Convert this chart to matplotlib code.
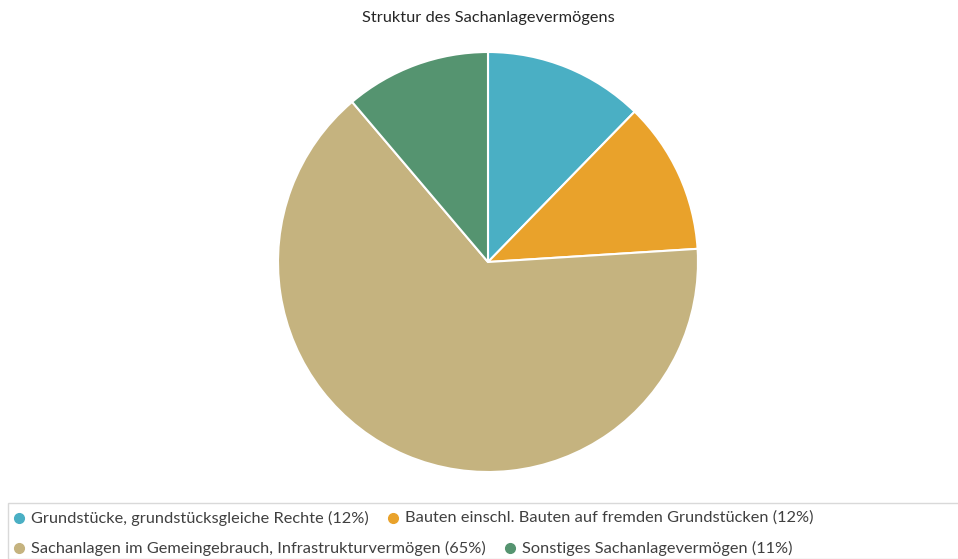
import matplotlib
matplotlib.use("Agg")
import matplotlib.pyplot as plt
from matplotlib.lines import Line2D
from matplotlib.patches import Rectangle

categories = [
    "Grundstücke, grundstücksgleiche Rechte",
    "Bauten einschl. Bauten auf fremden Grundstücken",
    "Sachanlagen im Gemeingebrauch, Infrastrukturvermögen",
    "Sonstiges Sachanlagevermögen",
]
values = [12.3, 11.7, 64.8, 11.2]
labels_pct = ["12%", "12%", "65%", "11%"]
colors = ["#4AAFC4", "#E9A22B", "#C5B37F", "#559470"]
title = "Struktur des Sachanlagevermögens"

W, H = 958, 559
fig = plt.figure(figsize=(W / 100, H / 100), dpi=100)
plt.rcParams['font.family'] = ['Lato', 'DejaVu Sans']

cx, cy, r = 488, 262, 210
ax = fig.add_axes([(cx - r) / W, (H - cy - r) / H, 2 * r / W, 2 * r / H])
ax.pie(values, colors=colors, startangle=90, counterclock=False, radius=1,
       wedgeprops=dict(edgecolor="white", linewidth=1.5))
ax.set_xlim(-1, 1)
ax.set_ylim(-1, 1)
ax.set_aspect("equal")
ax.axis("off")

fig.text(cx / W, 1 - 18 / H, title, ha="center", va="center", fontsize=11.8, color="#262626")

# Legend box
fig.add_artist(Rectangle((8 / W, 0), (W - 8) / W + 0.01, (H - 503) / H,
                         transform=fig.transFigure, facecolor="none",
                         edgecolor="#d9d9d9", linewidth=1))

fig.canvas.draw()
renderer = fig.canvas.get_renderer()
rows = [[0, 1], [2, 3]]
row_y = [518, 548]
for row, yy in zip(rows, row_y):
    x = 19
    for i in row:
        fig.add_artist(Line2D([x / W], [1 - yy / H], marker="o", markersize=7,
                              color=colors[i], linestyle="none", transform=fig.transFigure))
        t = fig.text((x + 12) / W, 1 - yy / H, f"{categories[i]} ({labels_pct[i]})",
                     ha="left", va="center", fontsize=11.8, color="#404040")
        bb = t.get_window_extent(renderer)
        x = bb.x1 + 24

fig.savefig("out.png", dpi=100)
